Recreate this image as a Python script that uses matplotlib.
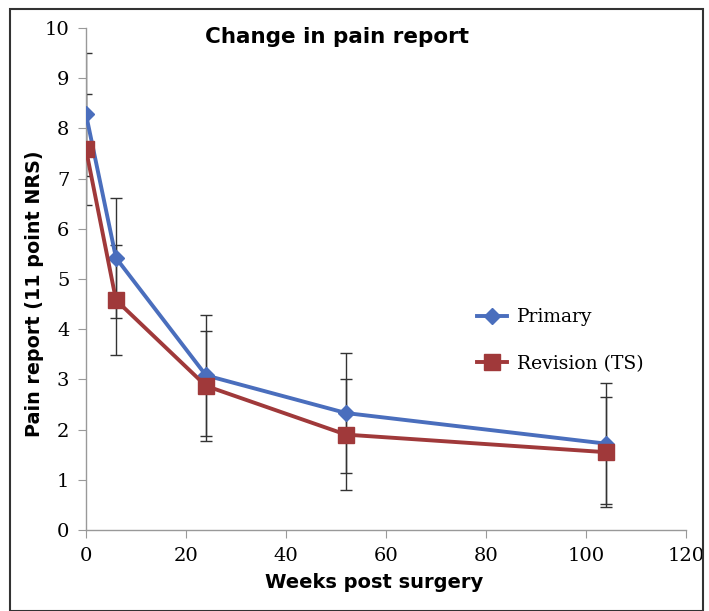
import matplotlib
matplotlib.use("Agg")
import matplotlib.pyplot as plt
from matplotlib.patches import Rectangle

weeks = [0, 6, 24, 52, 104]
primary = [8.28, 5.42, 3.08, 2.33, 1.72]
primary_err = [1.22, 1.2, 1.2, 1.2, 1.2]
revision = [7.58, 4.58, 2.87, 1.90, 1.55]
revision_err = [1.1, 1.1, 1.1, 1.1, 1.1]
xticks = [0, 20, 40, 60, 80, 100, 120]
yticks = list(range(0, 11))

fig = plt.figure(figsize=(7.09, 6.11), dpi=100)
ax = fig.add_axes([86/709, 1-530/611, 600/709, 502/611])

blue = "#4a6ebd"
red = "#a0393a"
ecol = "#333333"

ax.errorbar(weeks, primary, yerr=primary_err, fmt="none", ecolor=ecol, elinewidth=1.0, capsize=4, capthick=1.0, zorder=1)
ax.errorbar(weeks, revision, yerr=revision_err, fmt="none", ecolor=ecol, elinewidth=1.0, capsize=4, capthick=1.0, zorder=1)
ax.plot(weeks, primary, color=blue, lw=2.8, marker="D", ms=8, label="Primary", zorder=3)
ax.plot(weeks, revision, color=red, lw=2.8, marker="s", ms=11, label="Revision (TS)", zorder=3)

ax.set_xlim(0, 120)
ax.set_ylim(0, 10)
ax.set_xticks(xticks)
ax.set_yticks(yticks)
for s in ["top", "right"]:
    ax.spines[s].set_visible(False)
for s in ["left", "bottom"]:
    ax.spines[s].set_color("#999999")
    ax.spines[s].set_linewidth(1.0)
ax.tick_params(axis="both", direction="out", length=6, color="#999999", labelsize=14, pad=6)
for lab in ax.get_xticklabels() + ax.get_yticklabels():
    lab.set_family("DejaVu Serif")
ax.set_xlabel("Weeks post surgery", fontsize=14, fontweight="bold")
ax.set_ylabel("Pain report (11 point NRS)", fontsize=13.8, fontweight="bold")
ax.xaxis.set_label_coords((374-86)/600, (530-583)/502)
ax.yaxis.set_label_coords((35-86)/600, (530-294)/502)
ax.xaxis.label.set_va("center")
ax.yaxis.label.set_va("center")

fig.text(337/709, 1-37/611, "Change in pain report", fontsize=15.5, fontweight="bold", ha="center", va="center")

leg = ax.legend(loc="upper left", bbox_to_anchor=(383/600, (530-301)/502), frameon=False,
                prop={"family": "DejaVu Serif", "size": 13.5}, labelspacing=1.52,
                handlelength=1.6, handletextpad=0.55, borderaxespad=0)

fig.patches.append(Rectangle((10/709, 0), 693/709, 1-9/611, transform=fig.transFigure,
                             fill=False, edgecolor="#333333", lw=1.5))

fig.savefig("out.png", dpi=100)
